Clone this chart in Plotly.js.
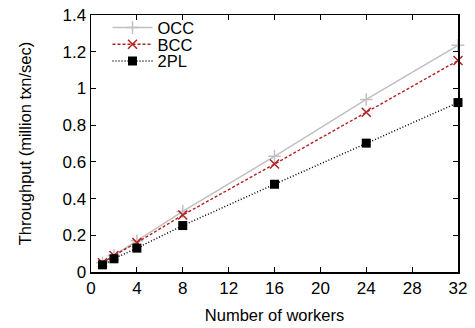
<!DOCTYPE html>
<html><head><meta charset="utf-8">
<script src="https://cdn.plot.ly/plotly-3.0.1.min.js"></script>
<style>html,body{margin:0;padding:0;background:#fff}#c{width:475px;height:328px}</style>
</head><body><div id="c"></div>
<script>
const workers = [1, 2, 4, 8, 16, 24, 32];
const occ = [0.05, 0.09, 0.17, 0.33, 0.63, 0.94, 1.235];
const bcc = [0.05, 0.09, 0.16, 0.31, 0.588, 0.87, 1.152];
const twoPL = [0.039, 0.072, 0.13, 0.253, 0.478, 0.702, 0.923];
const xTicks = [0, 4, 8, 12, 16, 20, 24, 28, 32];
const yTicks = [0, 0.2, 0.4, 0.6, 0.8, 1, 1.2, 1.4];
const yTickText = ['0', '0.2', '0.4', '0.6', '0.8', '1', '1.2', '1.4'];

const traces = [
  {x: workers, y: occ, name: 'OCC', mode: 'lines+markers', legend: 'legend', cliponaxis: false,
   line: {color: '#c0c0c0', width: 1.5},
   marker: {symbol: 'cross-thin-open', size: 9, color: '#c0c0c0', line: {color: '#c0c0c0', width: 1.5}}},
  {x: workers, y: bcc, name: 'BCC', mode: 'lines+markers', legend: 'legend2', cliponaxis: false,
   line: {color: '#b22222', width: 1.4, dash: '3px,2px'},
   marker: {symbol: 'x-thin-open', size: 9, color: '#b22222', line: {color: '#b22222', width: 1.5}}},
  {x: workers, y: twoPL, name: '2PL', mode: 'lines+markers', legend: 'legend3', cliponaxis: false,
   line: {color: '#000000', width: 1.5, dash: '1px,2px'},
   marker: {symbol: 'square', size: 9, color: '#000000'}}
];

function leg(y) {
  return {x: 0.045, y: y, xanchor: 'left', yanchor: 'middle', bgcolor: 'rgba(0,0,0,0)',
          font: {size: 16.5}, itemwidth: 40, borderwidth: 0};
}

const layout = {
  width: 475, height: 328,
  margin: {l: 91, r: 17, t: 10, b: 56},
  paper_bgcolor: '#fff', plot_bgcolor: '#fff',
  font: {family: 'Liberation Sans, Arial, sans-serif', size: 16, color: '#000'},
  showlegend: true,
  legend: leg(0.950),
  legend2: leg(0.885),
  legend3: leg(0.820),
  xaxis: {range: [0, 32], tickvals: xTicks, ticktext: xTicks.map(String),
          showgrid: false, zeroline: false, showline: true, linecolor: '#000', linewidth: 1.5,
          mirror: 'ticks', ticks: 'inside', ticklen: 5, tickwidth: 1, tickcolor: '#000',
          tickfont: {size: 17},
          title: {text: 'Number of workers', font: {size: 16.5}, standoff: 12}},
  yaxis: {range: [0, 1.4], tickvals: yTicks, ticktext: yTickText,
          showgrid: false, zeroline: false, showline: true, linecolor: '#000', linewidth: 1.5,
          mirror: 'ticks', ticks: 'inside', ticklen: 5, tickwidth: 1, tickcolor: '#000',
          tickfont: {size: 17},
          title: {text: 'Throughput (million txn/sec)', font: {size: 16.5}, standoff: 26}}
};
Plotly.newPlot('c', traces, layout, {displayModeBar: false, staticPlot: true});
</script></body></html>
